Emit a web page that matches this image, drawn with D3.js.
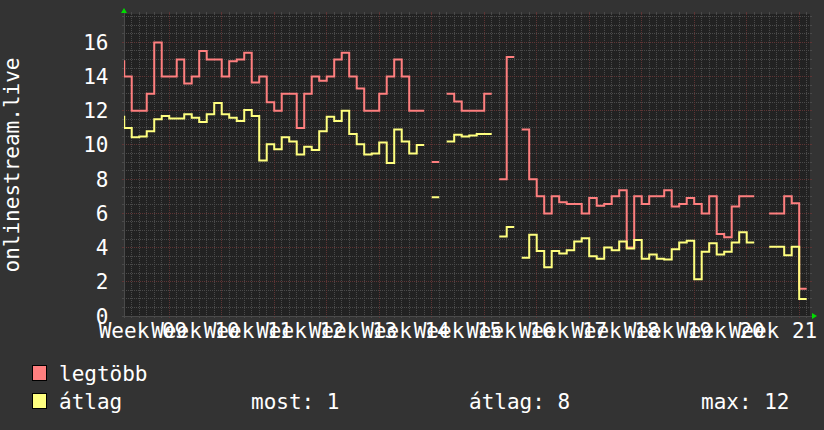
<!DOCTYPE html>
<html>
<head>
<meta charset="utf-8">
<script src="https://cdn.jsdelivr.net/npm/d3@7"></script>
<style>
    body { margin: 0; background: #333; }
    svg { display: block; }
    text { font-family: 'DejaVu Sans Mono', monospace; font-size: 21px; fill: #fff; }
</style>
</head>
<body>
<svg id="chart" width="824" height="430"></svg>
<script>
//
// DATA
//
// one value per day, the first entry is the day before the window, null = no data
const legtobb = [
    14.9,
    14, 12, 12, 13, 16, 14, 14, 15, 13.6, 14,
    15.5, 15, 15, 14, 14.9, 15, 15.4, 13.65, 14, 12.5,
    12, 13, 13, 11, 13, 14, 13.75, 14, 15, 15.4,
    14, 13.3, 12, 12, 13, 14, 15, 14, 12, 12,
    null, 9, null, 13, 12.55, 12, 12, 12, 13, null,
    8, 15.15, null, 10.9, 8, 7, 6, 7, 6.65, 6.55,
    6.55, 6, 6.9, 6.45, 6.55, 7, 7.35, 4, 7, 6.55,
    7, 7, 7.35, 6.4, 6.55, 6.9, 6.55, 6, 7, 4.8,
    4.6, 6.4, 7, 7, null, null, 6, 6, 7, 6.6,
    1.6, null
]
const atlag = [
    11.65,
    11, 10.45, 10.5, 10.8, 11.5, 11.7, 11.55, 11.55, 11.8, 11.6,
    11.35, 11.8, 12.45, 11.8, 11.6, 11.4, 12.05, 11.7, 9.1, 10.05,
    9.75, 10.45, 10.2, 9.45, 9.9, 9.7, 10.8, 11.65, 11.4, 12,
    10.65, 10.05, 9.45, 9.5, 10.15, 8.95, 10.9, 10.2, 9.5, 10,
    null, 6.95, null, 10.2, 10.6, 10.5, 10.55, 10.65, 10.65, null,
    4.65, 5.2, null, 3.4, 4.75, 3.8, 2.85, 3.8, 3.65, 3.85,
    4.35, 4.55, 3.5, 3.35, 4, 3.85, 4.35, 3.95, 4.45, 3.35,
    3.6, 3.35, 3.3, 3.9, 4.3, 4.4, 2.15, 3.75, 4.25, 3.6,
    3.75, 4.3, 4.9, 4.3, null, null, 4.05, 4.05, 3.55, 4.05,
    1, null
]
const weekLabels = ['Week 09', 'Week 10', 'Week 11', 'Week 12', 'Week 13', 'Week 14', 'Week 15',
    'Week 16', 'Week 17', 'Week 18', 'Week 19', 'Week 20', 'Week 21']
const yTicks = [0, 2, 4, 6, 8, 10, 12, 14, 16]
const seriesNames = ['legtöbb', 'átlag']
const seriesColors = ['#ff7f7f', '#ffff7f']
const stats = ['most: 1', 'átlag: 8', 'max: 12']
const yTitle = 'onlinestream.live'

//
// CHART
//
const svg = d3.select('#chart')
const X0 = 124, X1 = 810, Y0 = 316, Y1 = 14

const x = d3.scaleLinear().domain([-0.03, 91.44]).range([X0, X1])
const y = d3.scaleLinear().domain([0, 17.66]).range([Y0, Y1])

// plot background
svg.append('rect')
    .attr('x', X0).attr('y', Y1)
    .attr('width', X1 - X0).attr('height', Y0 - Y1)
    .attr('fill', '#222')

svg.append('clipPath').attr('id', 'plot')
    .append('rect')
    .attr('x', X0).attr('y', Y1 - 2)
    .attr('width', X1 - X0).attr('height', Y0 - Y1 + 4)

const grid = svg.append('g').attr('shape-rendering', 'crispEdges')
const minorCol = '#4a4a4a', majorCol = '#5e3434'

// week lines start on mondays, labels sit in the middle of each week
const weekDays = weekLabels.map((d, i) => 6 + 7 * i)
const dayLines = d3.range(1, 92).filter(d => !weekDays.includes(d))
const minorY = d3.range(0.5, 17.6, 0.5).filter(v => v % 2 !== 0)

const hLine = (vals, col) => {
    grid.selectAll(null).data(vals).enter().append('path')
        .attr('d', v => `M${X0},${y(v)}H${X1}`)
        .attr('stroke', col).attr('stroke-dasharray', '1,1')
    // little ticks outside the frame
    grid.selectAll(null).data(vals).enter().append('path')
        .attr('d', v => `M${X0 - 2},${y(v)}H${X0}M${X1},${y(v)}H${X1 + 2}`)
        .attr('stroke', col)
}
const vLine = (vals, col) => {
    grid.selectAll(null).data(vals).enter().append('path')
        .attr('d', d => `M${x(d)},${Y1}V${Y0}`)
        .attr('stroke', col).attr('stroke-dasharray', '1,1')
    grid.selectAll(null).data(vals).enter().append('path')
        .attr('d', d => `M${x(d)},${Y1 - 2}V${Y1}M${x(d)},${Y0}V${Y0 + 2}`)
        .attr('stroke', col)
}
hLine(minorY, minorCol)
vLine(dayLines, minorCol)
hLine(yTicks.slice(1), majorCol)
vLine(weekDays, majorCol)

// axes and arrows
grid.append('path')
    .attr('d', `M${X0},${Y0 + 2}V${Y1 - 3}M${X0 - 2},${Y0}H${X1 + 3}`)
    .attr('stroke', '#4a4a4a')
svg.append('path')
    .attr('d', `M${X0 - 3},${Y1 - 1}L${X0 + 3},${Y1 - 1}L${X0},${Y1 - 6}Z`)
    .attr('fill', '#00dd00')
svg.append('path')
    .attr('d', `M${X1 + 2},${Y0 - 3}L${X1 + 2},${Y0 + 3}L${X1 + 7},${Y0}Z`)
    .attr('fill', '#00dd00')

// y tick labels
svg.selectAll('.ytick').data(yTicks).enter().append('text')
    .attr('class', 'ytick')
    .attr('x', 108.5)
    .attr('y', d => y(d) + 7.5)
    .attr('text-anchor', 'end')
    .text(d => d)

// x labels (they overlap, like the original)
svg.selectAll('.xtick').data(weekLabels).enter().append('text')
    .attr('class', 'xtick')
    .attr('x', (d, i) => x(weekDays[i] - 3.5))
    .attr('y', 338)
    .attr('text-anchor', 'middle')
    .text(d => d)

// y title
svg.append('text')
    .attr('transform', `translate(19,${(Y0 + Y1) / 2}) rotate(-90)`)
    .attr('text-anchor', 'middle')
    .text(yTitle)

// step lines
const steps = vals => vals.flatMap((v, i) => {
    const d = i - 1
    return v == null ? [{ d, v: null }] : [{ d, v }, { d: d + 1, v }]
})
const line = d3.line()
    .defined(p => p.v != null)
    .x(p => x(p.d))
    .y(p => y(p.v))

svg.append('g').attr('clip-path', 'url(#plot)')
    .selectAll('path')
    .data([legtobb, atlag])
    .enter()
    .append('path')
    .attr('d', d => line(steps(d)))
    .attr('fill', 'none')
    .attr('stroke', (d, i) => seriesColors[i])
    .attr('stroke-width', 2)

// legend
const legend = svg.append('g')
legend.selectAll('rect').data(seriesNames).enter().append('rect')
    .attr('x', 32.5)
    .attr('y', (d, i) => 365.5 + i * 28)
    .attr('width', 14).attr('height', 15)
    .attr('fill', (d, i) => seriesColors[i])
    .attr('stroke', '#000')
legend.selectAll('text.name').data(seriesNames).enter().append('text')
    .attr('class', 'name')
    .attr('x', 59)
    .attr('y', (d, i) => 381 + i * 28)
    .text(d => d)
legend.selectAll('text.stat').data(stats).enter().append('text')
    .attr('class', 'stat')
    .attr('x', (d, i) => [251, 469, 701][i])
    .attr('y', 409)
    .text(d => d)
</script>
</body>
</html>
